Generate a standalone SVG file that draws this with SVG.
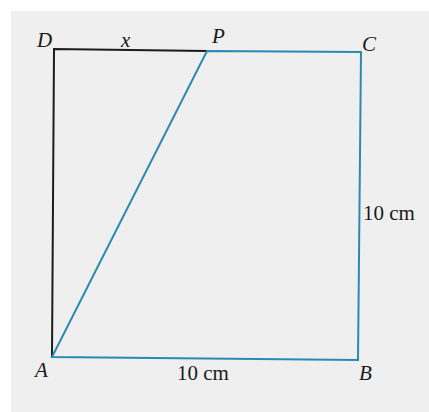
<svg xmlns="http://www.w3.org/2000/svg" width="429" height="412" viewBox="0 0 429 412">
<style>
text{font-family:'Liberation Serif','Times New Roman','DejaVu Serif',serif;font-size:21px;fill:#1a1a1a}
.it{font-style:italic}
.blk{stroke:#1c1c1c;stroke-width:2;fill:none;stroke-linecap:square}
.blu{stroke:#2a8ab2;stroke-width:2;fill:none;stroke-linecap:square}
</style>
<rect x="0" y="0" width="429" height="412" fill="#ffffff"/>
<rect x="11" y="11" width="418" height="401" fill="#efefef"/>
<g id="connectors">
<path class="blk" d="M207,51 L54,49 L52,357"/>
<path class="blu" d="M207,51 L361,52 L358,360 L52,357 Z"/>
</g>
<g id="D"><text class="it" x="37" y="47">D</text></g>
<g id="x"><text class="it" x="121" y="47">x</text></g>
<g id="P"><text class="it" x="212" y="43">P</text></g>
<g id="C"><text class="it" x="362" y="51">C</text></g>
<g id="A"><text class="it" x="35" y="377">A</text></g>
<g id="B"><text class="it" x="359" y="380">B</text></g>
<g id="side-BC"><text x="363" y="220" font-size="22">10 cm</text></g>
<g id="side-AB"><text x="177" y="380" font-size="22">10 cm</text></g>
</svg>
